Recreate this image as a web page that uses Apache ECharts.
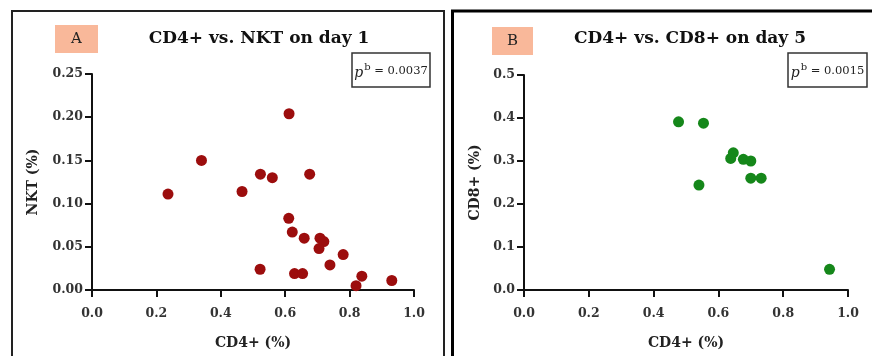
<!DOCTYPE html>
<html>
<head>
<meta charset="utf-8">
<script src="https://cdn.jsdelivr.net/npm/echarts@6/dist/echarts.min.js"></script>
<style>
  html, body { margin: 0; padding: 0; background: #fff; }
  #chart { width: 872px; height: 356px; }
</style>
</head>
<body>
<div id="chart"></div>
<script>
// Panel A: CD4+ vs. NKT on day 1 — [CD4+ %, NKT %]
const nktDay1 = [
  [0.236, 0.111], [0.340, 0.150], [0.466, 0.114], [0.523, 0.134],
  [0.560, 0.130], [0.612, 0.204], [0.676, 0.134], [0.611, 0.083],
  [0.622, 0.067], [0.659, 0.060], [0.708, 0.060], [0.720, 0.056],
  [0.705, 0.048], [0.780, 0.041], [0.739, 0.029], [0.522, 0.024],
  [0.629, 0.019], [0.654, 0.019], [0.838, 0.016], [0.820, 0.005],
  [0.931, 0.011]
];

// Panel B: CD4+ vs. CD8+ on day 5 — [CD4+ %, CD8+ %]
const cd8Day5 = [
  [0.477, 0.391], [0.554, 0.388], [0.646, 0.319], [0.638, 0.306],
  [0.677, 0.304], [0.700, 0.300], [0.540, 0.244], [0.700, 0.260],
  [0.732, 0.260], [0.943, 0.048]
];

const panelTitles = ['CD4+ vs. NKT on day 1', 'CD4+ vs. CD8+ on day 5'];
const panelLetters = ['A', 'B'];
const pValues = ['0.0037', '0.0015'];
const xAxisName = 'CD4+ (%)';
const yAxisNames = ['NKT (%)', 'CD8+ (%)'];

const FONT = '"DejaVu Serif", "Liberation Serif", serif';

function xAxisCfg(gridIndex) {
  return {
    type: 'value', gridIndex: gridIndex, min: 0, max: 1, interval: 0.2,
    name: xAxisName, nameLocation: 'middle', nameGap: 46,
    nameTextStyle: { fontFamily: FONT, fontWeight: 'bold', fontSize: 14, color: '#222' },
    axisLine: { show: true, lineStyle: { color: '#111', width: 2 } },
    axisTick: { show: true, length: 7, lineStyle: { color: '#111', width: 2 } },
    axisLabel: { fontFamily: FONT, fontWeight: 'bold', fontSize: 12.5, color: '#333', margin: 17,
                 formatter: v => v.toFixed(1) },
    splitLine: { show: false }
  };
}

function yAxisCfg(gridIndex, max, interval, digits, gap) {
  return {
    type: 'value', gridIndex: gridIndex, min: 0, max: max, interval: interval,
    name: yAxisNames[gridIndex], nameLocation: 'middle', nameGap: gap, nameRotate: 90,
    nameTextStyle: { fontFamily: FONT, fontWeight: 'bold', fontSize: 14, color: '#222' },
    axisLine: { show: true, lineStyle: { color: '#111', width: 2 } },
    axisTick: { show: true, length: 7, lineStyle: { color: '#111', width: 2 } },
    axisLabel: { fontFamily: FONT, fontWeight: 'bold', fontSize: 12.5, color: '#333', margin: 9,
                 formatter: v => v.toFixed(digits) },
    splitLine: { show: false }
  };
}

function pText(i) {
  return {
    text: '{p|p}{sup|b}{eq| = ' + pValues[i] + '}',
    rich: {
      p: { fontFamily: FONT, fontStyle: 'italic', fontSize: 14, fill: '#222', verticalAlign: 'bottom' },
      sup: { fontFamily: FONT, fontSize: 10, fill: '#222', padding: [0, 0, 8, 1] },
      eq: { fontFamily: FONT, fontSize: 11.5, fill: '#222' }
    }
  };
}

const chart = echarts.init(document.getElementById('chart'), null, { renderer: 'canvas' });

chart.setOption({
  backgroundColor: '#fff',
  animation: false,
  title: [
    { text: panelTitles[0], left: 254, top: 25, textAlign: 'center',
      textStyle: { fontFamily: FONT, fontWeight: 'bold', fontSize: 17, color: '#111' } },
    { text: panelTitles[1], left: 685, top: 25, textAlign: 'center',
      textStyle: { fontFamily: FONT, fontWeight: 'bold', fontSize: 17, color: '#111' } }
  ],
  grid: [
    { left: 92, right: 458, top: 74, bottom: 66 },
    { left: 524, right: 24, top: 75, bottom: 66 }
  ],
  xAxis: [xAxisCfg(0), xAxisCfg(1)],
  yAxis: [yAxisCfg(0, 0.25, 0.05, 2, 52), yAxisCfg(1, 0.5, 0.1, 1, 42)],
  series: [
    { type: 'scatter', xAxisIndex: 0, yAxisIndex: 0, data: nktDay1, symbolSize: 11,
      itemStyle: { color: '#9c0d0d', opacity: 1 } },
    { type: 'scatter', xAxisIndex: 1, yAxisIndex: 1, data: cd8Day5, symbolSize: 11,
      itemStyle: { color: '#15871a', opacity: 1 } }
  ],
  graphic: [
    // panel frames
    { type: 'rect', shape: { x: 12, y: 11, width: 432, height: 360 },
      style: { fill: 'none', stroke: '#222', lineWidth: 2 }, z: 0 },
    { type: 'rect', shape: { x: 452.5, y: 11, width: 430, height: 360 },
      style: { fill: 'none', stroke: '#000', lineWidth: 3 }, z: 0 },
    // panel letter boxes
    { type: 'rect', shape: { x: 55, y: 25, width: 43, height: 28 },
      style: { fill: '#f9b89a' }, z: 1 },
    { type: 'text', x: 76.5, y: 39, style: { text: panelLetters[0], fontFamily: FONT, fontSize: 15,
      fill: '#222', align: 'center', verticalAlign: 'middle' }, z: 2 },
    { type: 'rect', shape: { x: 492, y: 27, width: 41, height: 28 },
      style: { fill: '#f9b89a' }, z: 1 },
    { type: 'text', x: 512.5, y: 41, style: { text: panelLetters[1], fontFamily: FONT, fontSize: 15,
      fill: '#222', align: 'center', verticalAlign: 'middle' }, z: 2 },
    // p-value boxes
    { type: 'rect', shape: { x: 352, y: 53, width: 78, height: 34 },
      style: { fill: '#fff', stroke: '#333', lineWidth: 1.5 }, z: 1 },
    { type: 'text', x: 391, y: 71, style: Object.assign(pText(0), { align: 'center', verticalAlign: 'middle' }), z: 2 },
    { type: 'rect', shape: { x: 788, y: 53, width: 79, height: 34 },
      style: { fill: '#fff', stroke: '#333', lineWidth: 1.5 }, z: 1 },
    { type: 'text', x: 827.5, y: 71, style: Object.assign(pText(1), { align: 'center', verticalAlign: 'middle' }), z: 2 }
  ]
});
</script>
</body>
</html>
